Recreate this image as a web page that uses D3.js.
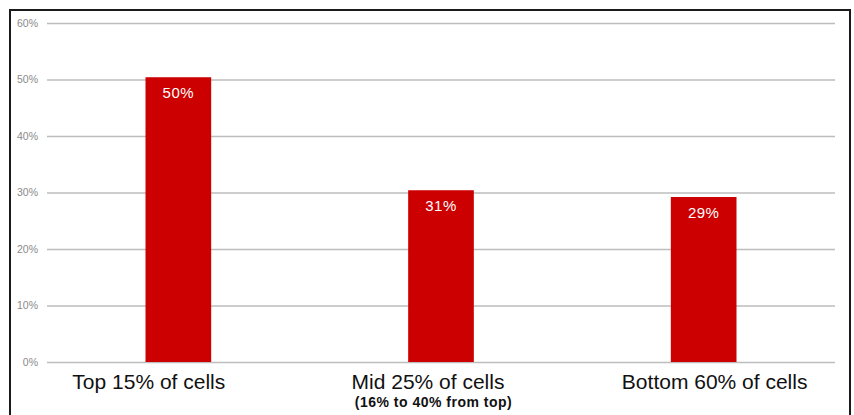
<!DOCTYPE html>
<html>
<head>
<meta charset="utf-8">
<script src="https://cdn.jsdelivr.net/npm/d3@7"></script>
<style>
  html, body { margin: 0; padding: 0; background: #fff; }
  svg { display: block; }
</style>
</head>
<body>
<svg id="chart" width="854" height="415"></svg>
<script>
// values
const categories = ["Top 15% of cells", "Mid 25% of cells", "Bottom 60% of cells"];
const subLabels = ["", "(16% to 40% from top)", ""];
const shares = [50.4, 30.4, 29.2];
const valueLabels = ["50%", "31%", "29%"];
const yTicks = [0, 10, 20, 30, 40, 50, 60];

// labels in the original are nudged off the bar centres
const catDx = [-29.5, -13, 11];
const subDx = [0, -7.5, 0];

const svg = d3.select("#chart");
const plotLeft = 47, plotRight = 835, plotTop = 23, plotBottom = 362;

const x = d3.scaleBand().domain(categories).range([plotLeft, plotRight]);
const y = d3.scaleLinear().domain([0, 60]).range([plotBottom, plotTop]);
const barW = x.bandwidth() * 0.25;
const cx = i => x(categories[i]) + x.bandwidth() / 2;

// frame
svg.append("rect")
  .attr("x", 10).attr("y", 10)
  .attr("width", 840).attr("height", 420)
  .attr("fill", "none").attr("stroke", "#1a1a1a").attr("stroke-width", 2);

// grid + y labels
const yAxis = d3.axisLeft(y).tickValues(yTicks)
  .tickSize(-(plotRight - plotLeft)).tickFormat(d => d + "%").tickPadding(9);
const gy = svg.append("g").attr("transform", `translate(${plotLeft},0)`).call(yAxis);
gy.select(".domain").remove();
gy.selectAll(".tick line").attr("stroke", "#bdbdbd").attr("stroke-width", 1.4);
gy.selectAll(".tick text")
  .attr("fill", "#8a8a8a")
  .style("font-family", "'Liberation Sans', Arial, sans-serif")
  .style("font-size", "10.5px");

// bars
svg.append("g").selectAll("rect")
  .data(shares)
  .join("rect")
  .attr("x", (d, i) => cx(i) - barW / 2)
  .attr("y", d => y(d))
  .attr("width", barW)
  .attr("height", d => y(0) - y(d))
  .attr("fill", "#cc0000");

// value labels
svg.append("g").selectAll("text")
  .data(shares)
  .join("text")
  .attr("x", (d, i) => cx(i))
  .attr("y", d => y(d) + 21)
  .attr("text-anchor", "middle")
  .attr("fill", "#fff")
  .style("font-family", "'Liberation Sans', Arial, sans-serif")
  .style("font-size", "15px")
  .style("letter-spacing", "0.5px")
  .text((d, i) => valueLabels[i]);

// category labels
const gx = svg.append("g");
gx.selectAll("text.cat")
  .data(categories)
  .join("text")
  .attr("class", "cat")
  .attr("x", (d, i) => cx(i) + catDx[i])
  .attr("y", 389)
  .attr("text-anchor", "middle")
  .attr("fill", "#111")
  .style("font-family", "'Liberation Sans', Arial, sans-serif")
  .style("font-size", "21px")
  .text(d => d);

gx.selectAll("text.sub")
  .data(subLabels)
  .join("text")
  .attr("class", "sub")
  .attr("x", (d, i) => cx(i) + subDx[i])
  .attr("y", 406.5)
  .attr("text-anchor", "middle")
  .attr("fill", "#111")
  .style("font-family", "'Liberation Sans', Arial, sans-serif")
  .style("font-size", "14px")
  .style("font-weight", "bold")
  .style("letter-spacing", "0.5px")
  .text(d => d);
</script>
</body>
</html>
